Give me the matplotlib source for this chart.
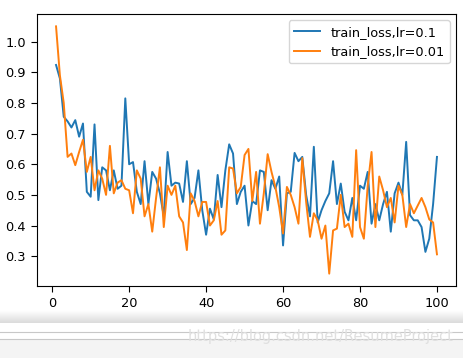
import matplotlib
matplotlib.use("Agg")
import matplotlib.pyplot as plt
import numpy as np

epochs = list(range(1, 101))

loss_lr01 = [
    0.924, 0.88, 0.755, 0.74, 0.72, 0.744, 0.69, 0.733, 0.51, 0.494,
    0.73, 0.483, 0.59, 0.58, 0.515, 0.58, 0.52, 0.53, 0.815, 0.60,
    0.607, 0.51, 0.47, 0.61, 0.47, 0.575, 0.553, 0.505, 0.43, 0.64,
    0.53, 0.54, 0.537, 0.477, 0.61, 0.47, 0.49, 0.58, 0.45, 0.37,
    0.455, 0.42, 0.565, 0.46, 0.58, 0.665, 0.635, 0.47, 0.51, 0.53,
    0.40, 0.48, 0.47, 0.58, 0.575, 0.45, 0.548, 0.52, 0.56, 0.335,
    0.505, 0.51, 0.637, 0.61, 0.624, 0.50, 0.43, 0.657, 0.41, 0.45,
    0.48, 0.505, 0.61, 0.47, 0.537, 0.445, 0.417, 0.49, 0.417, 0.53,
    0.52, 0.575, 0.406, 0.47, 0.417, 0.47, 0.51, 0.38, 0.505, 0.54,
    0.50, 0.673, 0.434, 0.417, 0.417, 0.395, 0.314, 0.357, 0.47, 0.624,
]

loss_lr001 = [
    1.05, 0.89, 0.80, 0.624, 0.635, 0.597, 0.64, 0.68, 0.575, 0.624,
    0.515, 0.58, 0.553, 0.50, 0.66, 0.505, 0.54, 0.548, 0.52, 0.515,
    0.44, 0.58, 0.553, 0.43, 0.47, 0.38, 0.49, 0.59, 0.395, 0.53,
    0.50, 0.53, 0.43, 0.41, 0.32, 0.505, 0.48, 0.43, 0.477, 0.477,
    0.40, 0.417, 0.48, 0.37, 0.384, 0.59, 0.586, 0.505, 0.526, 0.63,
    0.65, 0.48, 0.575, 0.406, 0.505, 0.633, 0.575, 0.526, 0.46, 0.374,
    0.526, 0.50, 0.46, 0.406, 0.62, 0.477, 0.363, 0.44, 0.417, 0.357,
    0.40, 0.243, 0.384, 0.39, 0.50, 0.395, 0.406, 0.363, 0.646, 0.395,
    0.357, 0.53, 0.64, 0.395, 0.56, 0.515, 0.46, 0.49, 0.41, 0.53,
    0.50, 0.395, 0.47, 0.44, 0.465, 0.49, 0.46, 0.42, 0.41, 0.306,
]

labels = ['train_loss,lr=0.1', 'train_loss,lr=0.01']

W, H = 464, 358
fig = plt.figure(figsize=(W / 100, H / 100), dpi=100)

# main axes placed in pixel coords of the screenshot
ax = fig.add_axes([37 / W, (H - 286) / H, 419 / W, 272 / H])
ax.plot(epochs, loss_lr01, color='#1f77b4', lw=1.4, label=labels[0])
ax.plot(epochs, loss_lr001, color='#ff7f0e', lw=1.4, label=labels[1])
ax.set_xticks([0, 20, 40, 60, 80, 100])
ax.set_yticks(np.arange(0.3, 1.01, 0.1))
ax.tick_params(labelsize=9.3, length=4.5, width=0.8)
for s in ax.spines.values():
    s.set_linewidth(0.8)
ax.legend(loc='upper right', fontsize=9.3)

# bottom strip of the notebook screenshot
bg = fig.add_axes([0, 0, 1, 1], zorder=-1)
bg.set_xlim(0, W)
bg.set_ylim(H, 0)
bg.axis('off')
grad = np.linspace(1.0, 0.86, 20).reshape(-1, 1)
bg.imshow(grad, cmap='gray', vmin=0, vmax=1, extent=[0, W, 323, 310],
          aspect='auto', interpolation='bilinear')
bg.fill_between([0, W], 339, H, color='#f4f4f4', lw=0)
bg.plot([0, W], [331.5, 331.5], color='#c8c8c8', lw=0.8)
bg.plot([0, W], [339, 339], color='#c8c8c8', lw=0.8)

fig.text(454 / W, 1 - 337 / H, 'https://blog.csdn.net/ResumeProject',
         ha='right', va='center', fontsize=10.5, color='#e0e0e0')

fig.savefig('out.png', dpi=100)
